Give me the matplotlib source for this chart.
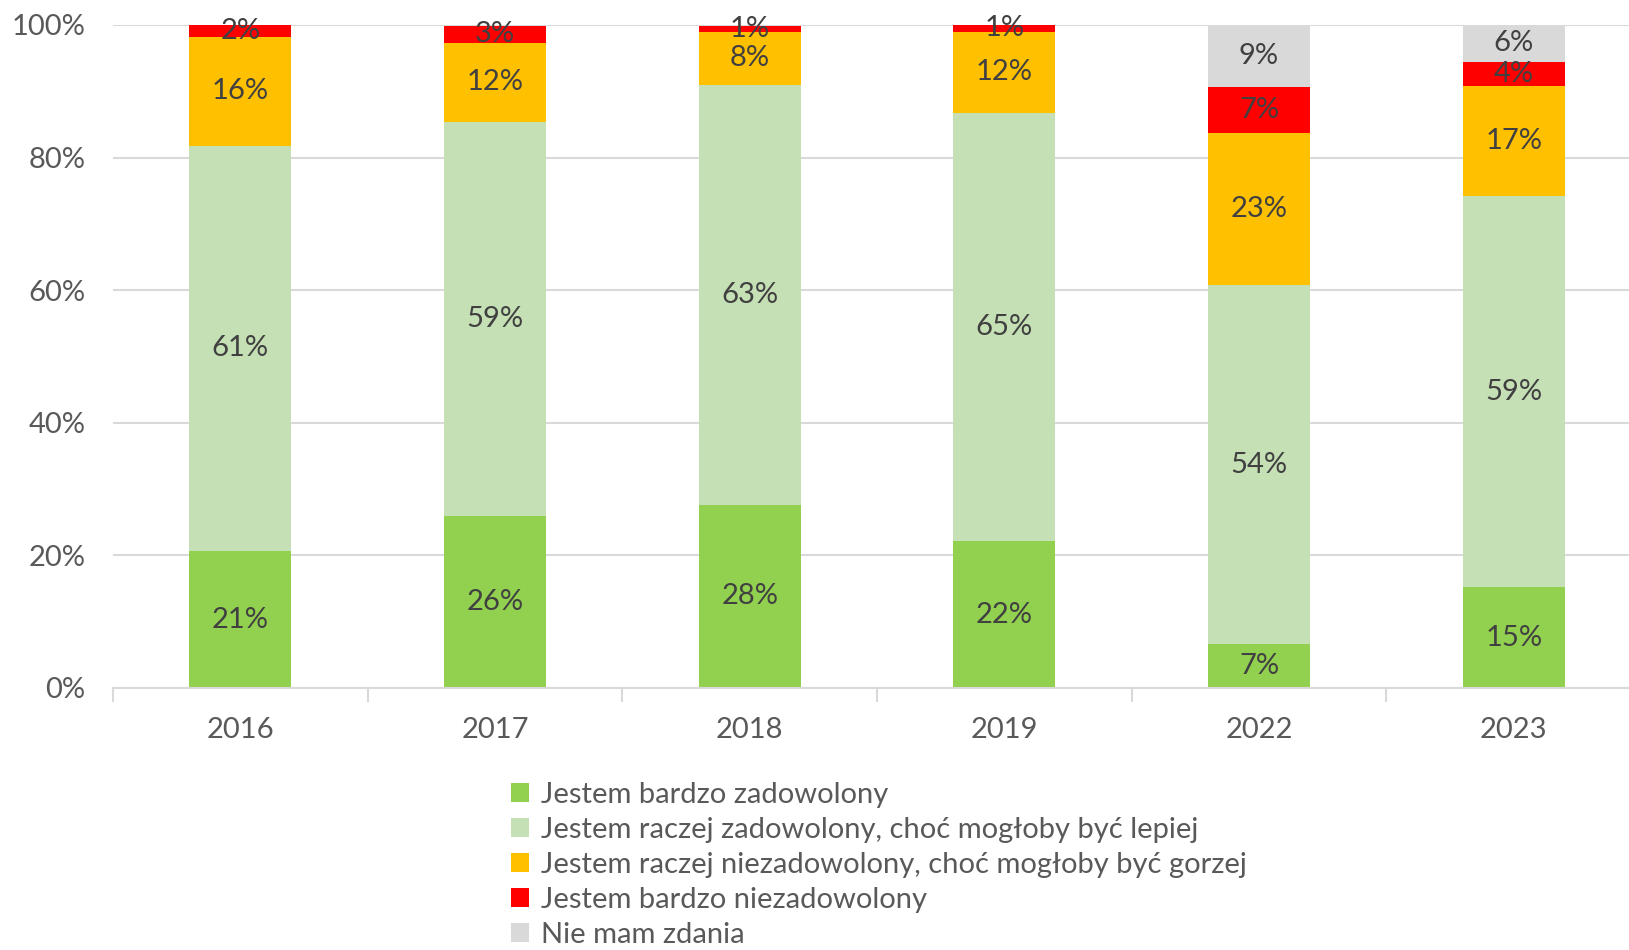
import matplotlib.pyplot as plt
import numpy as np
from matplotlib.patches import Patch

years = ["2016", "2017", "2018", "2019", "2022", "2023"]
bardzo_zad = [20.6, 26.0, 27.6, 22.1, 6.6, 15.2]
raczej_zad = [61.2, 59.4, 63.4, 64.6, 54.1, 59.0]
raczej_niezad = [16.4, 11.9, 7.9, 12.3, 23.0, 16.6]
bardzo_niezad = [1.8, 2.6, 1.0, 1.0, 6.9, 3.6]
brak_zdania = [0.0, 0.0, 0.0, 0.0, 9.4, 5.6]

series = [bardzo_zad, raczej_zad, raczej_niezad, bardzo_niezad, brak_zdania]
labels = [
    "Jestem bardzo zadowolony",
    "Jestem raczej zadowolony, choć mogłoby być lepiej",
    "Jestem raczej niezadowolony, choć mogłoby być gorzej",
    "Jestem bardzo niezadowolony",
    "Nie mam zdania",
]
colors = ["#92D050", "#C5E0B4", "#FFC000", "#FF0000", "#D9D9D9"]

plt.rcParams['font.family'] = ['Lato', 'DejaVu Sans']

fig = plt.figure(figsize=(16.29, 9.5), dpi=100)
ax = fig.add_axes([0.0694, 0.2758, 0.938, 0.698])

x = np.arange(len(years))
bottom = np.zeros(len(years))
for vals, col in zip(series, colors):
    vals = np.array(vals)
    ax.bar(x, vals, bottom=bottom, width=0.4, color=col, zorder=2)
    for xi, b, v in zip(x, bottom, vals):
        if v > 0:
            ax.text(xi, b + v / 2, f"{v:.0f}%", ha='center', va='center',
                    fontsize=21, color='#404040', zorder=3)
    bottom += vals

ax.set_xlim(-0.5, len(years) - 0.5)
ax.set_ylim(0, 100)
ax.set_yticks(range(0, 101, 20))
ax.set_yticklabels([f"{v}%" for v in range(0, 101, 20)])
ax.grid(axis='y', color='#D9D9D9', lw=1.5, zorder=0)

ax.set_xticks(x)
ax.set_xticklabels(years)
ax.set_xticks(np.arange(-0.5, len(years), 1), minor=True)
ax.tick_params(axis='x', which='major', length=0, pad=21, labelsize=21, labelcolor='#595959')
ax.tick_params(axis='x', which='minor', length=10, color='#D9D9D9', width=1.5)
ax.tick_params(axis='y', length=0, pad=20, labelsize=21, labelcolor='#595959')

for s in ['top', 'right', 'left']:
    ax.spines[s].set_visible(False)
ax.spines['bottom'].set_color('#D9D9D9')
ax.spines['bottom'].set_linewidth(1.5)

handles = [Patch(facecolor=c, edgecolor='none') for c in colors]
fig.legend(handles, labels, loc='upper left', bbox_to_anchor=(0.3137, 0.177),
           frameon=False, fontsize=21, labelcolor='#595959',
           handlelength=0.62, handleheight=0.62, handletextpad=0.4,
           labelspacing=0.31, borderpad=0, borderaxespad=0)

fig.savefig("out.png", dpi=100)
